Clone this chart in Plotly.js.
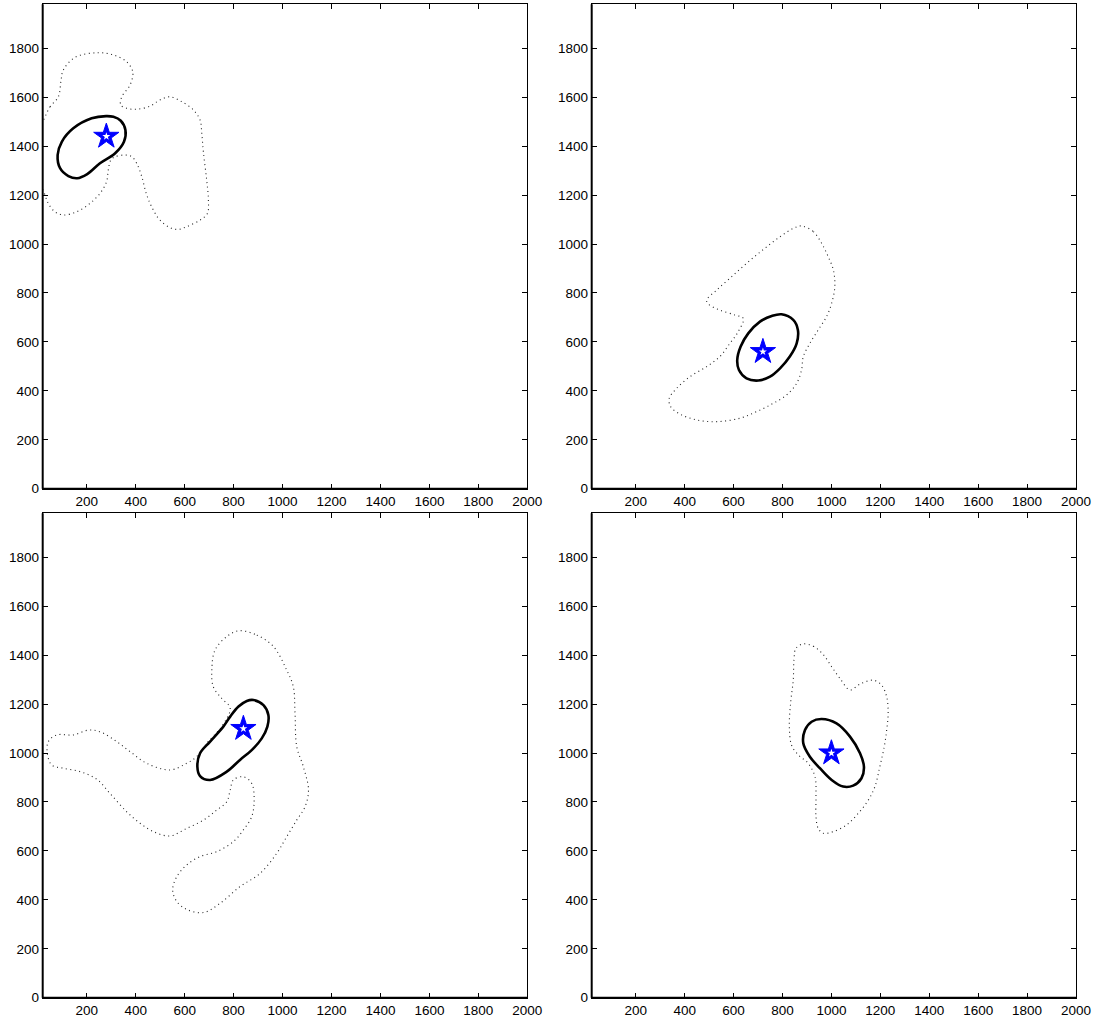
<!DOCTYPE html>
<html>
<head>
<meta charset="utf-8">
<script src="https://cdn.plot.ly/plotly-3.0.1.min.js"></script>
<style>
  html, body { margin: 0; padding: 0; background: #fff; }
  #chart { width: 1095px; height: 1022px; }
</style>
</head>
<body>
<div id="chart"></div>
<script>
// Four panels, each with an outer (dotted) contour, an inner (solid) contour and a peak marker.

// Panel 1 (top left)
const outerX1 = [27, 50, 84, 95, 104, 152, 241, 309, 363, 388, 377, 343, 339, 363, 404, 459, 499, 540, 588, 636, 663, 670, 677, 690, 697, 693, 663, 608, 574, 540, 499, 472, 445, 425, 404, 384, 356, 316, 298, 288, 281, 254, 213, 159, 104, 70, 43, 27, 8, 5, 10, 27];
const outerY1 = [1514, 1561, 1602, 1670, 1711, 1763, 1782, 1773, 1745, 1704, 1650, 1602, 1568, 1555, 1551, 1564, 1589, 1602, 1582, 1548, 1507, 1452, 1371, 1262, 1180, 1125, 1098, 1071, 1060, 1067, 1098, 1139, 1200, 1275, 1330, 1357, 1364, 1357, 1343, 1303, 1255, 1207, 1166, 1132, 1119, 1132, 1166, 1207, 1260, 1380, 1470, 1514];
const coreX1 = [279, 220, 145, 98, 81, 91, 125, 161, 202, 254, 316, 352, 358, 339, 309, 279];
const coreY1 = [1523, 1514, 1473, 1418, 1364, 1310, 1278, 1269, 1286, 1330, 1371, 1418, 1466, 1504, 1520, 1523];

// Panel 2 (top right)
const outerX2 = [878, 926, 960, 987, 1008, 1014, 1001, 980, 946, 912, 885, 878, 858, 817, 762, 694, 626, 531, 449, 381, 343, 337, 367, 422, 490, 544, 585, 619, 640, 606, 544, 497, 490, 531, 585, 653, 722, 790, 844, 878];
const outerY2 = [1074, 1051, 1003, 948, 894, 826, 758, 703, 649, 594, 540, 485, 431, 383, 349, 315, 288, 274, 281, 305, 335, 369, 410, 458, 499, 540, 594, 642, 696, 710, 730, 755, 771, 812, 860, 921, 978, 1030, 1064, 1074];
const coreX2 = [796, 844, 863, 858, 830, 790, 749, 701, 653, 622, 615, 629, 660, 708, 756, 796];
const coreY2 = [713, 690, 649, 594, 540, 492, 458, 442, 451, 485, 526, 581, 635, 683, 706, 713];

// Panel 3 (bottom left)
const outerX3 = [820, 895, 963, 1017, 1044, 1051, 1058, 1085, 1106, 1092, 1058, 1017, 976, 908, 826, 745, 677, 608, 568, 551, 568, 608, 663, 731, 799, 840, 874, 884, 874, 840, 799, 786, 772, 731, 677, 608, 540, 472, 418, 363, 295, 241, 173, 104, 57, 39, 43, 77, 145, 207, 254, 322, 377, 445, 540, 608, 649, 690, 751, 786, 751, 717, 711, 724, 772, 820];
const outerY3 = [1500, 1482, 1435, 1339, 1271, 1162, 1026, 944, 849, 781, 726, 658, 590, 508, 454, 386, 348, 361, 393, 440, 495, 542, 577, 597, 638, 686, 740, 808, 876, 903, 890, 849, 801, 767, 726, 692, 661, 679, 713, 760, 835, 893, 924, 938, 951, 999, 1047, 1074, 1074, 1094, 1087, 1047, 1006, 958, 931, 958, 985, 1040, 1108, 1183, 1224, 1271, 1339, 1421, 1476, 1500];
const coreX3 = [881, 922, 942, 938, 915, 874, 826, 772, 704, 663, 652, 663, 704, 758, 786, 820, 854, 881];
const coreY3 = [1217, 1196, 1156, 1108, 1060, 1012, 972, 924, 890, 906, 944, 999, 1047, 1108, 1149, 1190, 1213, 1217];

// Panel 4 (bottom right)
const outerX4 = [885, 926, 967, 1001, 1035, 1076, 1117, 1171, 1205, 1226, 1232, 1226, 1216, 1198, 1178, 1151, 1110, 1062, 1008, 967, 946, 937, 937, 933, 905, 865, 837, 828, 833, 844, 847, 855, 885];
const outerY4 = [1446, 1437, 1402, 1353, 1305, 1258, 1282, 1298, 1278, 1230, 1162, 1094, 1026, 944, 863, 808, 754, 706, 679, 672, 692, 740, 822, 903, 958, 992, 1033, 1108, 1203, 1298, 1380, 1428, 1446];
const coreX4 = [960, 1021, 1076, 1117, 1133, 1123, 1089, 1048, 1001, 953, 912, 885, 892, 919, 960];
const coreY4 = [1139, 1121, 1067, 999, 944, 897, 867, 863, 890, 938, 985, 1040, 1094, 1128, 1139];

// Peak locations, one per panel
const peakX = [280, 720, 840, 1000];
const peakY = [1440, 560, 1100, 1000];

// Axis ticks
const xTicks = [200, 400, 600, 800, 1000, 1200, 1400, 1600, 1800, 2000];
const yTicks = [0, 200, 400, 600, 800, 1000, 1200, 1400, 1600, 1800];
const xRange = [20, 2000];
const yRange = [0, 1980];

const outers = [[outerX1, outerY1], [outerX2, outerY2], [outerX3, outerY3], [outerX4, outerY4]];
const cores = [[coreX1, coreY1], [coreX2, coreY2], [coreX3, coreY3], [coreX4, coreY4]];

// Panel boxes in page fractions: [x0, x1], [y0, y1]
const W = 1095, H = 1022;
const colDomains = [[42.7 / W, 527.3 / W], [591.7 / W, 1076 / W]];
const rowDomains = [[1 - 488.7 / H, 1 - 4.3 / H], [1 - 997.7 / H, 1 - 513.3 / H]];

const traces = [];
const layout = {
  width: W, height: H,
  margin: {l: 0, r: 0, t: 0, b: 0},
  paper_bgcolor: '#fff',
  plot_bgcolor: '#fff',
  showlegend: false,
  font: {family: 'Liberation Sans, Arial, Helvetica, sans-serif', size: 13.5, color: '#000'},
  shapes: []
};

for (let i = 0; i < 4; i++) {
  const n = i + 1;
  const xa = n === 1 ? 'x' : 'x' + n;
  const ya = n === 1 ? 'y' : 'y' + n;
  const row = Math.floor(i / 2), col = i % 2;

  traces.push({
    x: outers[i][0], y: outers[i][1], xaxis: xa, yaxis: ya,
    type: 'scatter', mode: 'lines',
    line: {color: '#222', width: 1.1, dash: '1px,3.5px', shape: 'spline', smoothing: 1},
    hoverinfo: 'skip'
  });
  traces.push({
    x: cores[i][0], y: cores[i][1], xaxis: xa, yaxis: ya,
    type: 'scatter', mode: 'lines',
    line: {color: '#000', width: 2.6, shape: 'spline', smoothing: 1},
    hoverinfo: 'skip'
  });
  // peak: bold blue star with a small white star in its centre
  traces.push({
    x: [peakX[i]], y: [peakY[i]], xaxis: xa, yaxis: ya,
    type: 'scatter', mode: 'markers',
    marker: {symbol: 'star', size: 19, color: '#0000ff', line: {color: '#0000ff', width: 1}},
    hoverinfo: 'skip'
  });
  traces.push({
    x: [peakX[i]], y: [peakY[i]], xaxis: xa, yaxis: ya,
    type: 'scatter', mode: 'markers',
    marker: {symbol: 'star', size: 6, color: '#ffffff', line: {width: 0}},
    hoverinfo: 'skip'
  });

  const common = {
    showgrid: false, zeroline: false,
    showline: true, linecolor: '#000', linewidth: 1, mirror: 'ticks',
    ticks: 'inside', ticklen: 5, tickwidth: 1, tickcolor: '#000',
    fixedrange: true
  };
  layout['xaxis' + (n === 1 ? '' : n)] = Object.assign({}, common, {
    domain: colDomains[col], range: xRange, anchor: ya,
    tickmode: 'array', tickvals: xTicks, ticktext: xTicks.map(String)
  });
  layout['yaxis' + (n === 1 ? '' : n)] = Object.assign({}, common, {
    domain: rowDomains[row], range: yRange, anchor: xa,
    tickmode: 'array', tickvals: yTicks, ticktext: yTicks.map(String)
  });

  // heavier left and bottom axis lines
  layout.shapes.push({type: 'line', xref: xa + ' domain', yref: ya + ' domain',
    x0: 0, x1: 0, y0: 0, y1: 1, line: {color: '#000', width: 2}, layer: 'above'});
  layout.shapes.push({type: 'line', xref: xa + ' domain', yref: ya + ' domain',
    x0: 0, x1: 1, y0: 0, y1: 0, line: {color: '#000', width: 2}, layer: 'above'});
}

Plotly.newPlot('chart', traces, layout, {staticPlot: true, displayModeBar: false});
</script>
</body>
</html>
